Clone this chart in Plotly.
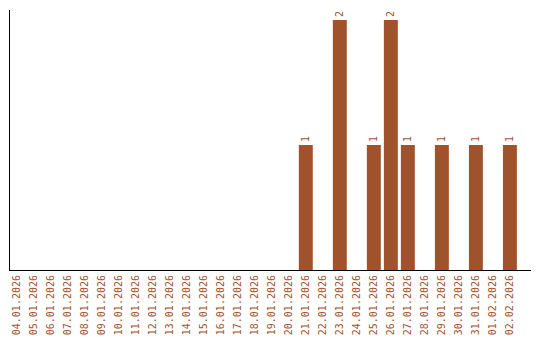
import plotly.graph_objects as go
import pandas as pd

dates = pd.date_range("2026-01-04", "2026-02-02", freq="D")
labels = [d.strftime("%d.%m.%Y") for d in dates]
counts_map = {"21.01.2026": 1, "23.01.2026": 2, "25.01.2026": 1, "26.01.2026": 2,
              "27.01.2026": 1, "29.01.2026": 1, "31.01.2026": 1, "02.02.2026": 1}
values = [counts_map.get(l, 0) for l in labels]
texts = [str(v) if v else "" for v in values]

color = "#A0522D"
fig = go.Figure(go.Bar(
    x=labels, y=values, marker_color=color, marker_line_width=0, text=texts,
    textposition="outside", textangle=-90, cliponaxis=False,
    textfont=dict(family="DejaVu Sans Mono", size=10, color=color),
    hoverinfo="skip",
))
fig.update_layout(
    width=540, height=340, margin=dict(l=10, r=9, t=10, b=70),
    plot_bgcolor="white", paper_bgcolor="white", bargap=0.18,
    showlegend=False,
    xaxis=dict(type="category", range=[-0.39, 30.24], tickangle=-90, showgrid=False,
               showline=True, automargin=False,
               linecolor="black", linewidth=1, ticks="",
               tickfont=dict(family="DejaVu Sans Mono", size=10, color=color)),
    yaxis=dict(range=[0, 2.08], showgrid=False, showline=True, linecolor="black",
               linewidth=1, showticklabels=False, ticks="", zeroline=False,
               automargin=False),
)
fig.write_html("out.html")
